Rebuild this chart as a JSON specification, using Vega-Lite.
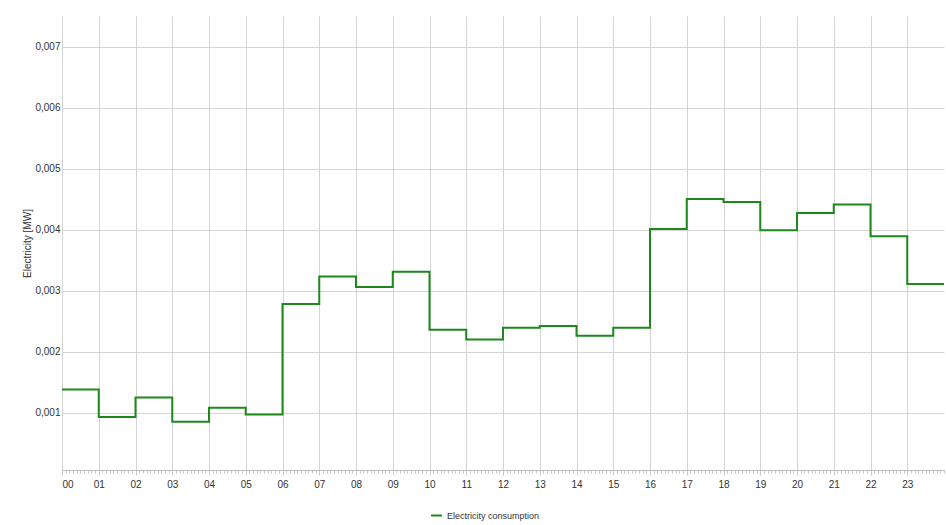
{
  "$schema": "https://vega.github.io/schema/vega-lite/v6.json",
  "width": 882,
  "height": 454,
  "autosize": {"type": "none"},
  "padding": {"left": 62, "top": 16, "right": 2, "bottom": 55},
  "background": "white",
  "config": {
    "view": {"stroke": null},
    "font": "Liberation Sans",
    "axis": {"labelFont": "Liberation Sans", "titleFont": "Liberation Sans"},
    "axisY": {
      "title": "Electricity [MW]",
      "titleFontSize": 10, "titleFontWeight": "normal", "titleColor": "#333333", "titlePadding": 2,
      "labelFontSize": 10, "labelColor": "#333333", "labelPadding": 2,
      "ticks": false, "domain": false,
      "grid": true, "gridColor": "#d4d4d4", "gridWidth": 1
    }
  },
  "data": {
    "values": [
      {"hour": 0, "value": 0.00138, "series": "Electricity consumption"},
      {"hour": 1, "value": 0.00093, "series": "Electricity consumption"},
      {"hour": 2, "value": 0.00125, "series": "Electricity consumption"},
      {"hour": 3, "value": 0.00085, "series": "Electricity consumption"},
      {"hour": 4, "value": 0.00108, "series": "Electricity consumption"},
      {"hour": 5, "value": 0.00097, "series": "Electricity consumption"},
      {"hour": 6, "value": 0.00278, "series": "Electricity consumption"},
      {"hour": 7, "value": 0.00323, "series": "Electricity consumption"},
      {"hour": 8, "value": 0.00306, "series": "Electricity consumption"},
      {"hour": 9, "value": 0.00331, "series": "Electricity consumption"},
      {"hour": 10, "value": 0.00236, "series": "Electricity consumption"},
      {"hour": 11, "value": 0.0022, "series": "Electricity consumption"},
      {"hour": 12, "value": 0.00239, "series": "Electricity consumption"},
      {"hour": 13, "value": 0.00242, "series": "Electricity consumption"},
      {"hour": 14, "value": 0.00226, "series": "Electricity consumption"},
      {"hour": 15, "value": 0.00239, "series": "Electricity consumption"},
      {"hour": 16, "value": 0.00401, "series": "Electricity consumption"},
      {"hour": 17, "value": 0.0045, "series": "Electricity consumption"},
      {"hour": 18, "value": 0.00445, "series": "Electricity consumption"},
      {"hour": 19, "value": 0.00399, "series": "Electricity consumption"},
      {"hour": 20, "value": 0.00427, "series": "Electricity consumption"},
      {"hour": 21, "value": 0.00441, "series": "Electricity consumption"},
      {"hour": 22, "value": 0.00389, "series": "Electricity consumption"},
      {"hour": 23, "value": 0.00311, "series": "Electricity consumption"},
      {"hour": 24, "value": 0.00311, "series": "Electricity consumption"}
    ]
  },
  "resolve": {"axis": {"x": "independent"}},
  "layer": [
    {
      "mark": {"type": "line", "strokeOpacity": 0},
      "encoding": {
        "x": {
          "field": "hour", "type": "quantitative",
          "scale": {"domain": [0, 24], "nice": false, "zero": false},
          "axis": {"orient": "bottom", "labels": false, "grid": false, "domain": false, "title": null,
                   "tickCount": 288, "tickSize": 3, "tickColor": "#c8c8c8", "tickWidth": 1}
        },
        "y": {
          "field": "value", "type": "quantitative",
          "scale": {"domain": [0.00006, 0.0075], "nice": false, "zero": false},
          "axis": {
            "title": "Electricity [MW]",
            "values": [0.001, 0.002, 0.003, 0.004, 0.005, 0.006, 0.007],
            "labelExpr": "replace(format(datum.value, '.3f'), '.', ',')"
          }
        }
      }
    },
    {
      "mark": {"type": "line", "interpolate": "step-after", "strokeWidth": 2, "color": "#1b8a1b"},
      "encoding": {
        "x": {
          "field": "hour", "type": "quantitative",
          "scale": {"domain": [0, 24], "nice": false, "zero": false},
          "axis": {
            "orient": "bottom",
            "title": null,
            "values": [0,1,2,3,4,5,6,7,8,9,10,11,12,13,14,15,16,17,18,19,20,21,22,23],
            "labelExpr": "format(datum.value, '02d')",
            "labelFontSize": 10, "labelColor": "#333333", "labelPadding": 4,
            "grid": true, "gridColor": "#d4d4d4", "gridWidth": 1,
            "tickSize": 5, "tickColor": "#c8c8c8",
            "domain": true, "domainColor": "#bdbdbd"
          }
        },
        "y": {
          "field": "value", "type": "quantitative",
          "scale": {"domain": [0.00006, 0.0075], "nice": false, "zero": false},
          "axis": {
            "title": "Electricity [MW]",
            "values": [0.001, 0.002, 0.003, 0.004, 0.005, 0.006, 0.007],
            "labelExpr": "replace(format(datum.value, '.3f'), '.', ',')"
          }
        },
        "color": {
          "field": "series", "type": "nominal",
          "scale": {"range": ["#1b8a1b"]},
          "legend": {
            "title": null, "orient": "none", "legendX": 368, "legendY": 493,
            "symbolType": "stroke", "symbolStrokeWidth": 2, "symbolSize": 120,
            "labelFontSize": 9, "labelColor": "#333333", "labelOffset": 4
          }
        }
      }
    }
  ]
}
